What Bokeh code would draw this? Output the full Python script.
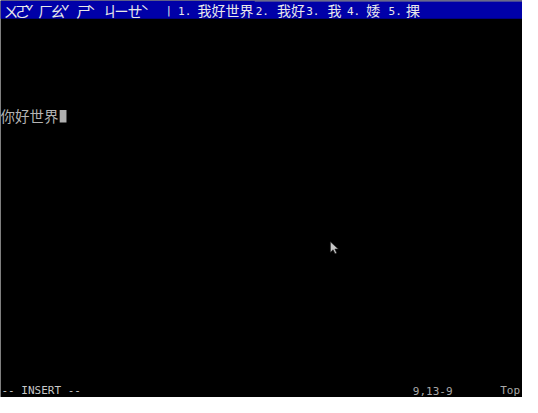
from bokeh.plotting import figure
from bokeh.models import Range1d
from bokeh.core.properties import value
from bokeh.embed import file_html
from bokeh.resources import INLINE

# ---- data (texts of the screen) ----
preedit_zhuyin = ["ㄨ", "ㄛ", "ˇ", "ㄏ", "ㄠ", "ˇ", "ㄕ", "ˋ", "ㄐ", "ㄧ", "ㄝ", "ˋ"]
candidate_nums = ["|", "1.", "2.", "3.", "4.", "5."]
candidate_words = ["我好世界", "我好", "我", "婑", "捰"]
buffer_line = ["你好世界"]
mode_text = ["-- INSERT --"]
ruler_text = ["9,13-9"]
scroll_text = ["Top"]

# ---- layout (screen pixels of the 538x413 terminal) ----
zhuyin_x = [3, 15, 25, 39, 51, 62, 78, 89, 105, 117, 131, 144]
num_x = [170, 183, 263, 315, 357, 400]
word_x = [203, 285, 337, 377, 418]
W, H = 538, 413

p = figure(width=522, height=397, output_backend="svg", toolbar_location=None,
           x_range=Range1d(0, W), y_range=Range1d(H, 0), min_border=0)
p.background_fill_color = "#000000"
p.border_fill_color = "#000000"
p.outline_line_color = None
p.axis.visible = False
p.grid.visible = False

# blue IME preedit bar
p.quad(left=[0], right=[W], top=[0], bottom=[19], fill_color="#0000a8", line_color=None)
p.quad(left=[262], right=[W], top=[0], bottom=[1], fill_color="#8a8a8a", line_color=None)

cjk = value("Noto Sans CJK TC")
mono = value("DejaVu Sans Mono")

p.text(x=zhuyin_x, y=[10] * len(zhuyin_x), text=preedit_zhuyin, text_font=cjk,
       text_font_size="15px", text_color="#e8e8e8", text_baseline="middle")
p.text(x=num_x, y=[10.5] * len(num_x), text=candidate_nums, text_font=mono,
       text_font_size="11px", text_color="#e8e8e8", text_baseline="middle")
p.text(x=word_x, y=[10] * len(word_x), text=candidate_words, text_font=cjk,
       text_font_size="14px", text_color="#e8e8e8", text_baseline="middle")

# buffer text and cursor
p.text(x=[0], y=[119.5], text=buffer_line, text_font=value("Noto Sans CJK SC"),
       text_font_size="14.5px", text_color="#b4b4b4", text_baseline="middle")
p.quad(left=[61], right=[68], top=[114], bottom=[127], fill_color="#b0b0b0", line_color=None)

# status line
p.text(x=[1], y=[406], text=mode_text, text_font=mono, text_font_size="11px",
       text_color="#c8c8c8", text_baseline="middle")
p.text(x=[425], y=[406], text=ruler_text, text_font=mono, text_font_size="11px",
       text_color="#a8a8a8", text_baseline="middle")
p.text(x=[515], y=[406], text=scroll_text, text_font=mono, text_font_size="11px",
       text_color="#a8a8a8", text_baseline="middle")

# mouse pointer
tip_x, tip_y = 340, 251
shape = [(0, 0), (0, 11), (2.8, 8.3), (4.8, 12.5), (6.5, 11.8), (4.6, 7.6), (8.2, 7.6)]
p.patch(x=[tip_x + dx for dx, dy in shape], y=[tip_y + dy for dx, dy in shape],
        fill_color="#c8c8c8", line_color="#202020", line_width=0.6)

open("out.html", "w").write(file_html(p, INLINE))
